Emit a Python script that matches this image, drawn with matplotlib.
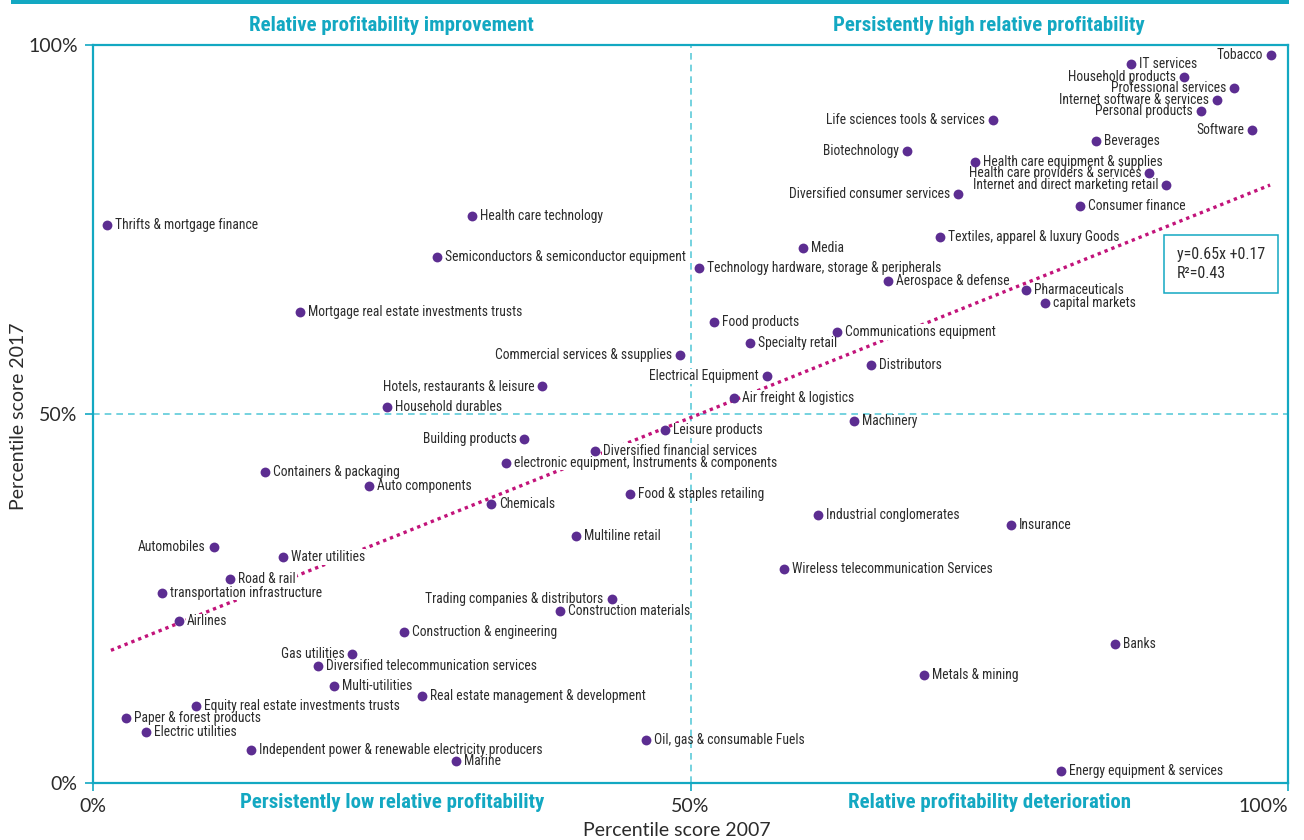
import matplotlib
matplotlib.use("Agg")
import matplotlib.pyplot as plt
from matplotlib import font_manager
from matplotlib.patches import Rectangle
import numpy as np

# pick a narrow font if one is installed
names = {f.name for f in font_manager.fontManager.ttflist}
font = "DejaVu Sans"
stretch = "condensed"
for cand in ["Roboto Condensed", "Liberation Sans Narrow", "Open Sans Condensed"]:
    if cand in names:
        font = cand
        stretch = "normal"
        break
plt.rcParams["font.family"] = [font, "DejaVu Sans"]
plt.rcParams["font.stretch"] = stretch
axis_font = ["Lato", "Open Sans", "DejaVu Sans"]

industries = [
    "Tobacco", "IT services", "Household products", "Professional services",
    "Internet software & services", "Personal products", "Life sciences tools & services",
    "Software", "Beverages", "Biotechnology", "Health care equipment & supplies",
    "Health care providers & services", "Internet and direct marketing retail",
    "Diversified consumer services", "Consumer finance", "Health care technology",
    "Thrifts & mortgage finance", "Textiles, apparel & luxury Goods", "Media",
    "Semiconductors & semiconductor equipment", "Technology hardware, storage & peripherals",
    "Aerospace & defense", "Pharmaceuticals", "capital markets",
    "Mortgage real estate investments trusts", "Food products", "Communications equipment",
    "Specialty retail", "Commercial services & ssupplies", "Distributors",
    "Electrical Equipment", "Hotels, restaurants & leisure", "Air freight & logistics",
    "Household durables", "Machinery", "Leisure products", "Building products",
    "Diversified financial services", "electronic equipment, Instruments & components",
    "Containers & packaging", "Auto components", "Food & staples retailing", "Chemicals",
    "Industrial conglomerates", "Insurance", "Multiline retail", "Automobiles",
    "Water utilities", "Wireless telecommunication Services", "Road & rail",
    "transportation infrastructure", "Trading companies & distributors",
    "Construction materials", "Airlines", "Construction & engineering", "Banks",
    "Gas utilities", "Diversified telecommunication services", "Metals & mining",
    "Multi-utilities", "Real estate management & development",
    "Equity real estate investments trusts", "Paper & forest products", "Electric utilities",
    "Oil, gas & consumable Fuels", "Independent power & renewable electricity producers",
    "Marine", "Energy equipment & services",
]
score_2007 = [
    0.986, 0.869, 0.913, 0.955, 0.941, 0.927, 0.753, 0.970, 0.839, 0.681, 0.738,
    0.884, 0.898, 0.724, 0.826, 0.317, 0.012, 0.709, 0.594, 0.288, 0.507, 0.665,
    0.781, 0.797, 0.173, 0.520, 0.623, 0.550, 0.491, 0.651, 0.564, 0.376, 0.536,
    0.246, 0.637, 0.479, 0.361, 0.420, 0.346, 0.144, 0.231, 0.449, 0.333, 0.607,
    0.768, 0.404, 0.101, 0.159, 0.578, 0.115, 0.0575, 0.434, 0.391, 0.072, 0.260,
    0.855, 0.217, 0.188, 0.695, 0.202, 0.275, 0.086, 0.028, 0.044, 0.4625, 0.1325,
    0.3035, 0.810,
]
score_2017 = [
    0.986, 0.974, 0.957, 0.942, 0.926, 0.910, 0.898, 0.885, 0.870, 0.856, 0.842,
    0.826, 0.810, 0.798, 0.782, 0.768, 0.756, 0.740, 0.725, 0.713, 0.698, 0.680,
    0.668, 0.650, 0.638, 0.624, 0.611, 0.596, 0.580, 0.566, 0.551, 0.5375, 0.522,
    0.510, 0.490, 0.478, 0.466, 0.450, 0.434, 0.421, 0.403, 0.392, 0.378, 0.363,
    0.349, 0.335, 0.320, 0.306, 0.290, 0.277, 0.258, 0.249, 0.2325, 0.219, 0.204,
    0.189, 0.175, 0.158, 0.146, 0.132, 0.1175, 0.105, 0.088, 0.069, 0.058, 0.045,
    0.030, 0.016,
]
# labels drawn on the left of their dot
left_labels = {
    "Tobacco", "Household products", "Professional services", "Internet software & services",
    "Personal products", "Life sciences tools & services", "Software", "Biotechnology",
    "Health care providers & services", "Internet and direct marketing retail",
    "Diversified consumer services", "Commercial services & ssupplies", "Electrical Equipment",
    "Hotels, restaurants & leisure", "Building products", "Automobiles", "Gas utilities",
    "Trading companies & distributors",
}
slope, intercept, r2 = 0.65, 0.17, 0.43
fit_x = [0.015, 0.985]
quadrants = ["Relative profitability improvement", "Persistently high relative profitability",
             "Persistently low relative profitability", "Relative profitability deterioration"]

teal = "#13a8c2"
light_teal = "#5ecbd9"
purple = "#5c2d91"
magenta = "#c2137a"
txt = "#2b2b2b"

fig = plt.figure(figsize=(13.04, 8.4), dpi=100)
ax = fig.add_axes([93 / 1304, 1 - 783 / 840, 1195 / 1304, 738 / 840])
ax.set_xlim(0, 1)
ax.set_ylim(0, 1)

for s in ax.spines.values():
    s.set_color(teal)
    s.set_linewidth(1.6)

ax.axvline(0.5, color=light_teal, lw=1.2, ls=(0, (4, 3)), zorder=1)
ax.axhline(0.5, color=light_teal, lw=1.2, ls=(0, (4, 3)), zorder=1)

fx = np.array(fit_x)
ax.plot(fx, slope * fx + intercept, color=magenta, lw=2.4, ls=(0, (1, 1.2)), zorder=2)

ax.scatter(score_2007, score_2017, s=50, color=purple, zorder=6, linewidths=0)

for name, x, y in zip(industries, score_2007, score_2017):
    left = name in left_labels
    # labels close to the trend line sit on a white patch that hides the line
    near_fit = abs(y - (slope * x + intercept)) < 0.06
    box = dict(boxstyle="square,pad=0.05", fc="white", ec="none") if near_fit else None
    ax.annotate(name, (x, y), xytext=(-8 if left else 8, 0), textcoords="offset pixels",
                ha="right" if left else "left", va="center", fontsize=9.8, color=txt,
                zorder=4, bbox=box)

# equation box
ax.add_patch(Rectangle((0.896, 0.664), 0.0954, 0.0786, transform=ax.transAxes,
                       fc="white", ec=teal, lw=1.1, zorder=7))
ax.text(0.907, 0.703, f"y={slope}x +{intercept}\nR\u00b2={r2}", transform=ax.transAxes,
        ha="left", va="center", fontsize=11.5, color=txt, linespacing=1.3, zorder=8)

# quadrant titles
for label, (qx, qy) in zip(quadrants, [(0.25, 1.027), (0.75, 1.027), (0.25, -0.027), (0.75, -0.027)]):
    ax.text(qx, qy, label, transform=ax.transAxes, ha="center", va="center",
            fontsize=15, fontweight="bold", color=teal)

ax.set_xticks([0, 0.5, 1])
ax.set_xticklabels(["0%", "50%", "100%"])
ax.set_yticks([0, 0.5, 1])
ax.set_yticklabels(["0%", "50%", "100%"])
ax.tick_params(colors=teal, labelcolor=txt, labelsize=14, length=6, width=1.2, pad=5)
for t in ax.get_xticklabels() + ax.get_yticklabels():
    t.set_fontfamily(axis_font)
ax.get_xticklabels()[-1].set_ha("right")

fig.text(677 / 1304, 1 - 831 / 840, "Percentile score 2007", ha="center", va="center",
         fontsize=14, color=txt, family=axis_font)
fig.text(19 / 1304, 1 - 416 / 840, "Percentile score 2017", ha="center", va="center",
         fontsize=14, color=txt, rotation=90, family=axis_font)

# teal band across the top
fig.add_artist(Rectangle((11 / 1304, 1 - 4 / 840), 1278 / 1304, 4 / 840,
                         transform=fig.transFigure, fc=teal, ec="none"))

fig.savefig("out.png", dpi=100)
